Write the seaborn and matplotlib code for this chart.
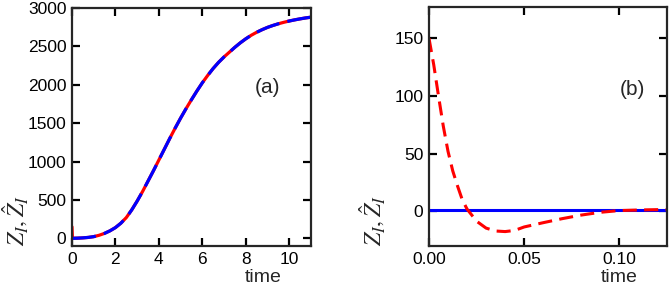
import numpy as np
import pandas as pd
import matplotlib
matplotlib.use("Agg")
import matplotlib.pyplot as plt
import seaborn as sns

# panel (a): Z_I and hat Z_I over the full run
time_a = [0, 0.25, 0.5, 0.75, 1, 1.25, 1.5, 1.75, 2, 2.25, 2.5, 2.75, 3,
          3.25, 3.5, 3.75, 4, 4.25, 4.5, 4.75, 5, 5.25, 5.5, 5.75, 6, 6.25,
          6.5, 6.75, 7, 7.25, 7.5, 7.75, 8, 8.25, 8.5, 8.75, 9, 9.25, 9.5,
          9.75, 10, 10.25, 10.5, 10.75, 11]
z_a = [0, 2, 6, 12, 22, 40, 65, 98, 140, 197, 270, 370, 485, 610, 745, 880,
       1020, 1160, 1300, 1435, 1565, 1688, 1805, 1918, 2025, 2122, 2212, 2292,
       2362, 2425, 2488, 2546, 2598, 2644, 2683, 2717, 2747, 2772, 2794, 2813,
       2830, 2845, 2858, 2870, 2880]
time_a_hat = [0, 0.02, 0.04] + time_a[1:]
zhat_a = [150, 3, 0] + z_a[1:]

# panel (b): early times
time_b = [0, 0.0025, 0.005, 0.0075, 0.01, 0.0125, 0.015, 0.0175, 0.02, 0.025,
          0.03, 0.035, 0.04, 0.045, 0.05, 0.06, 0.07, 0.08, 0.09, 0.1, 0.11,
          0.12, 0.125]
zhat_b = [150, 127, 100, 74, 52, 35, 22, 10, 2, -8.5, -14.5, -17, -17.5,
          -16.5, -13.5, -9.8, -6.3, -3.2, -0.8, 0.7, 1.2, 1.5, 1.5]
z_b = [1.5] * len(time_b)

sns.set_style("ticks")
plt.rcParams["font.family"] = ["Liberation Sans", "DejaVu Sans"]
plt.rcParams["mathtext.fontset"] = "stix"

fig = plt.figure(figsize=(6.71, 2.91), dpi=100)
ax1 = fig.add_axes([0.1073, 0.1546, 0.356, 0.818])
ax2 = fig.add_axes([0.6393, 0.1546, 0.3547, 0.8213])

df_a = pd.DataFrame({"time": time_a, "Z": z_a})
df_ah = pd.DataFrame({"time": time_a_hat, "Zhat": zhat_a})
sns.lineplot(data=df_ah, x="time", y="Zhat", ax=ax1, color="red", lw=2.3)
sns.lineplot(data=df_a, x="time", y="Z", ax=ax1, color="blue", lw=2.3)
ax1.lines[-1].set_dashes([7.5, 2.6])

df_b = pd.DataFrame({"time": time_b, "Z": z_b, "Zhat": zhat_b})
sns.lineplot(data=df_b, x="time", y="Z", ax=ax2, color="blue", lw=2.2)
sns.lineplot(data=df_b, x="time", y="Zhat", ax=ax2, color="red", lw=2.2)
ax2.lines[-1].set_dashes([4.6, 2.4])

ax1.set_xlim(0, 11)
ax1.set_ylim(-100, 3000)
ax1.set_xticks([0, 2, 4, 6, 8, 10])
ax1.set_yticks(range(0, 3001, 500))
ax1.text(0.82, 0.665, "(a)", transform=ax1.transAxes, fontsize=15,
         ha="center", va="center")

ax2.set_xlim(0, 0.125)
ax2.set_ylim(-30, 177)
ax2.set_xticks([0, 0.05, 0.10])
ax2.set_xticklabels(["0.00", "0.05", "0.10"])
ax2.set_yticks([0, 50, 100, 150])
ax2.text(0.853, 0.653, "(b)", transform=ax2.transAxes, fontsize=15,
         ha="center", va="center")

for ax in (ax1, ax2):
    for s in ax.spines.values():
        s.set_visible(True)
        s.set_linewidth(1.6)
    ax.tick_params(direction="in", length=6, width=1.6, top=True, right=True,
                   labelsize=12.5, pad=4, colors="black")
    ax.set_xlabel("time", fontsize=14, x=0.8, labelpad=2)
    ax.set_ylabel(r"$Z_I,\hat{Z}_I$", fontsize=17, loc="bottom")
    ax.yaxis.set_label_coords(-0.175, 0.0)

fig.savefig("out.png", dpi=100)
